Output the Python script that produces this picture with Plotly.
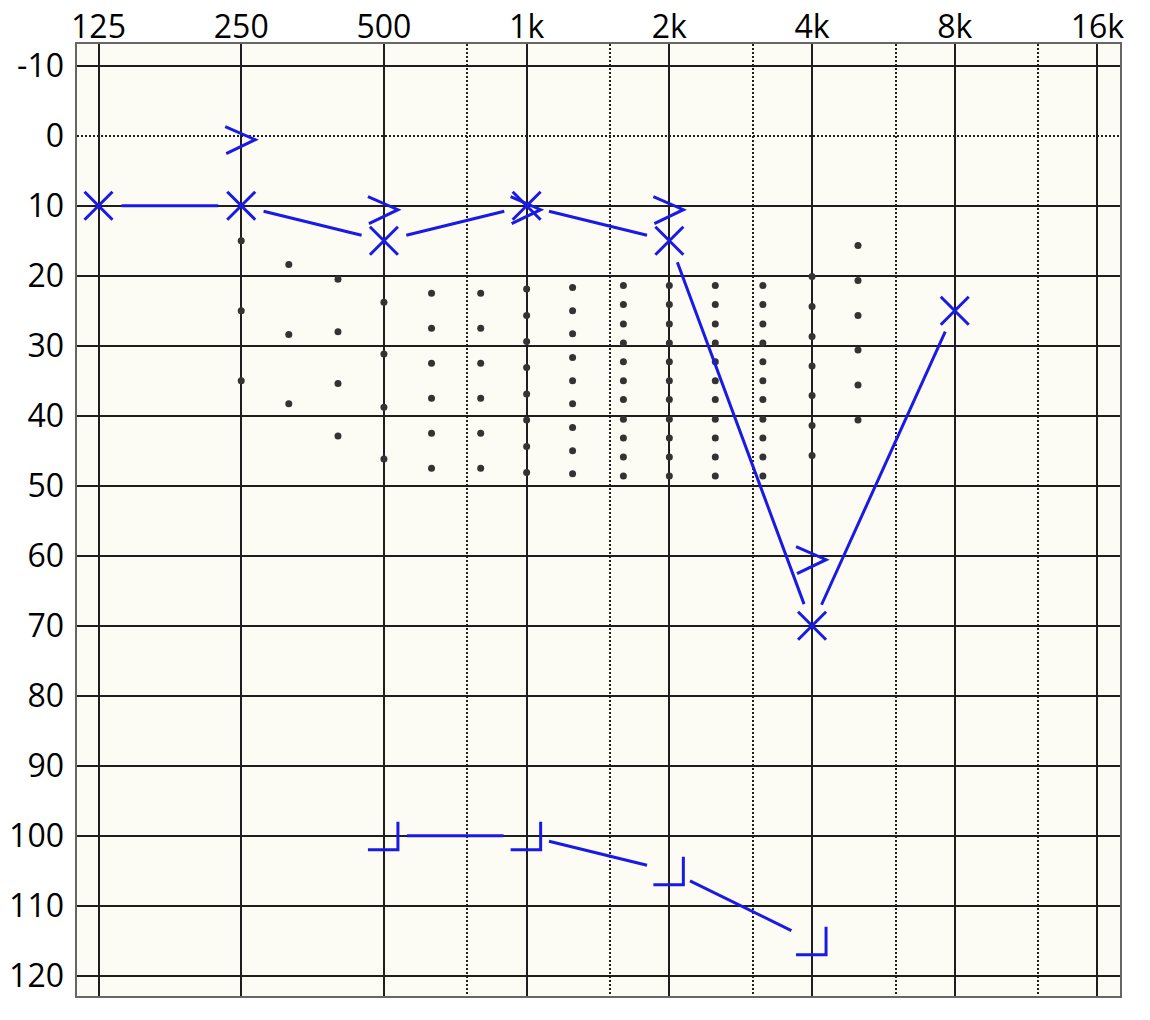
import math
import plotly.graph_objects as go

# ---------------- data ----------------
freq_ticks = [125, 250, 500, 1000, 2000, 4000, 8000, 16000]
freq_labels = ['125', '250', '500', '1k', '2k', '4k', '8k', '16k']
mid_freqs = [750, 1500, 3000, 6000, 12000]
db_ticks = [-10, 0, 10, 20, 30, 40, 50, 60, 70, 80, 90, 100, 110, 120]
db_labels = [str(v) for v in db_ticks]
db_reference = [0]

air_freqs = [125, 250, 500, 1000, 2000, 4000, 8000]
air_levels = [10, 10, 15, 10, 15, 70, 25]

bone_freqs = [250, 500, 1000, 2000, 4000]
bone_levels = [0, 10, 10, 10, 60]

masked_freqs = [500, 1000, 2000, 4000]
masked_levels = [100, 100, 105, 115]

banana_freqs = [250, 315, 400, 500, 630, 800, 1000, 1250, 1600, 2000, 2500, 3150, 4000, 5000]
banana_levels = [
    [15, 25, 35],
    [18.4, 28.4, 38.3],
    [20.5, 28, 35.4, 42.9],
    [23.8, 31.2, 38.8, 46.2],
    [22.5, 27.5, 32.5, 37.5, 42.5, 47.5],
    [22.5, 27.5, 32.5, 37.5, 42.5, 47.5],
    [21.9, 25.7, 29.4, 33.1, 36.9, 40.6, 44.4, 48.1],
    [21.7, 25, 28.3, 31.7, 35, 38.3, 41.7, 45, 48.3],
    [21.4, 24.1, 26.9, 29.6, 32.3, 35, 37.7, 40.5, 43.2, 45.9, 48.6],
    [21.4, 24.1, 26.9, 29.6, 32.3, 35, 37.7, 40.5, 43.2, 45.9, 48.6],
    [21.4, 24.1, 26.9, 29.6, 32.3, 35, 37.7, 40.5, 43.2, 45.9, 48.6],
    [21.4, 24.1, 26.9, 29.6, 32.3, 35, 37.7, 40.5, 43.2, 45.9, 48.6],
    [20.1, 24.4, 28.7, 32.9, 37.1, 41.4, 45.7],
    [15.7, 20.7, 25.7, 30.6, 35.6, 40.6],
]

# ---------------- style ----------------
BLUE = '#1a1ae6'
DOT = '#333333'
GRID = '#1e1e1e'
BG = '#fcfbf4'
FONT = 'Open Sans'
Y_RANGE = [122.9, -13.1]

fig = go.Figure()

# speech banana dots
bx, by = [], []
for f, levels in zip(banana_freqs, banana_levels):
    for lv in levels:
        bx.append(f)
        by.append(lv)
fig.add_trace(go.Scatter(x=bx, y=by, mode='markers',
                         marker=dict(symbol='circle', size=7, color=DOT),
                         hoverinfo='skip', showlegend=False))

# air conduction X markers
fig.add_trace(go.Scatter(x=air_freqs, y=air_levels, mode='markers',
                         marker=dict(symbol='x-thin', size=28, color=BLUE,
                                     line=dict(width=3, color=BLUE)),
                         showlegend=False))

# empty trace so that the label axis (y2) is created
fig.add_trace(go.Scatter(x=[None], y=[None], yaxis='y2', mode='markers',
                         showlegend=False, hoverinfo='skip'))

annotations = []


def connect(freqs, levels):
    for i in range(1, len(freqs)):
        annotations.append(dict(
            x=math.log10(freqs[i]), y=levels[i],
            ax=math.log10(freqs[i - 1]), ay=levels[i - 1],
            xref='x', yref='y', axref='x', ayref='y',
            text='', showarrow=True, arrowhead=0, arrowwidth=3,
            arrowcolor=BLUE, standoff=23, startstandoff=23,
            font=dict(size=1), borderpad=0, borderwidth=0))


connect(air_freqs, air_levels)
connect(masked_freqs, masked_levels)

shapes = []
# bone conduction '>' symbols
for f, lv in zip(bone_freqs, bone_levels):
    shapes.append(dict(type='path', xref='x', yref='y', xsizemode='pixel', ysizemode='pixel',
                       xanchor=f, yanchor=lv, path='M-16,9 L14,-4 L-15,-18',
                       line=dict(color=BLUE, width=3), layer='above'))
# masked bone conduction ']' symbols
for f, lv in zip(masked_freqs, masked_levels):
    shapes.append(dict(type='path', xref='x', yref='y', xsizemode='pixel', ysizemode='pixel',
                       xanchor=f, yanchor=lv, path='M14,14 L14,-14 L-16,-14',
                       line=dict(color=BLUE, width=3), layer='above'))

fig.update_layout(
    width=1134, height=1004,
    margin=dict(l=69, r=22, t=36, b=16, autoexpand=False),
    paper_bgcolor='white', plot_bgcolor=BG,
    font=dict(family=FONT, size=32, color='#000000'),
    showlegend=False,
    annotations=annotations,
    shapes=shapes,
    xaxis=dict(type='log', range=[math.log10(112.6), math.log10(17850)],
               side='top', tickmode='array', tickvals=freq_ticks, ticktext=freq_labels,
               showgrid=True, gridcolor=GRID, gridwidth=2, zeroline=False,
               ticks='', ticklabelstandoff=-9, automargin=False,
               showline=True, mirror=True, linecolor='#666666', linewidth=1.5,
               minor=dict(tickmode='array', tickvals=mid_freqs, showgrid=True,
                          gridcolor=GRID, gridwidth=2, griddash='2px,2px', ticks='')),
    # grid axis: solid lines at every level except the 0 dB reference, dotted at 0 dB
    yaxis=dict(range=Y_RANGE, tickmode='array',
               tickvals=[v for v in db_ticks if v not in db_reference],
               showticklabels=False, automargin=False,
               showgrid=True, gridcolor=GRID, gridwidth=2,
               zeroline=False, ticks='',
               showline=True, mirror=True, linecolor='#666666', linewidth=1.5,
               minor=dict(tickmode='array', tickvals=db_reference,
                          showgrid=True, gridcolor=GRID, gridwidth=1.5,
                          griddash='2px,2px', ticks='')),
    # label axis
    yaxis2=dict(range=Y_RANGE, overlaying='y', side='left', anchor='x',
                tickmode='array', tickvals=db_ticks, ticktext=db_labels,
                showgrid=False, zeroline=False, ticks='', ticklabelstandoff=12,
                automargin=False, showline=False),
)

fig.write_html('out.html')
